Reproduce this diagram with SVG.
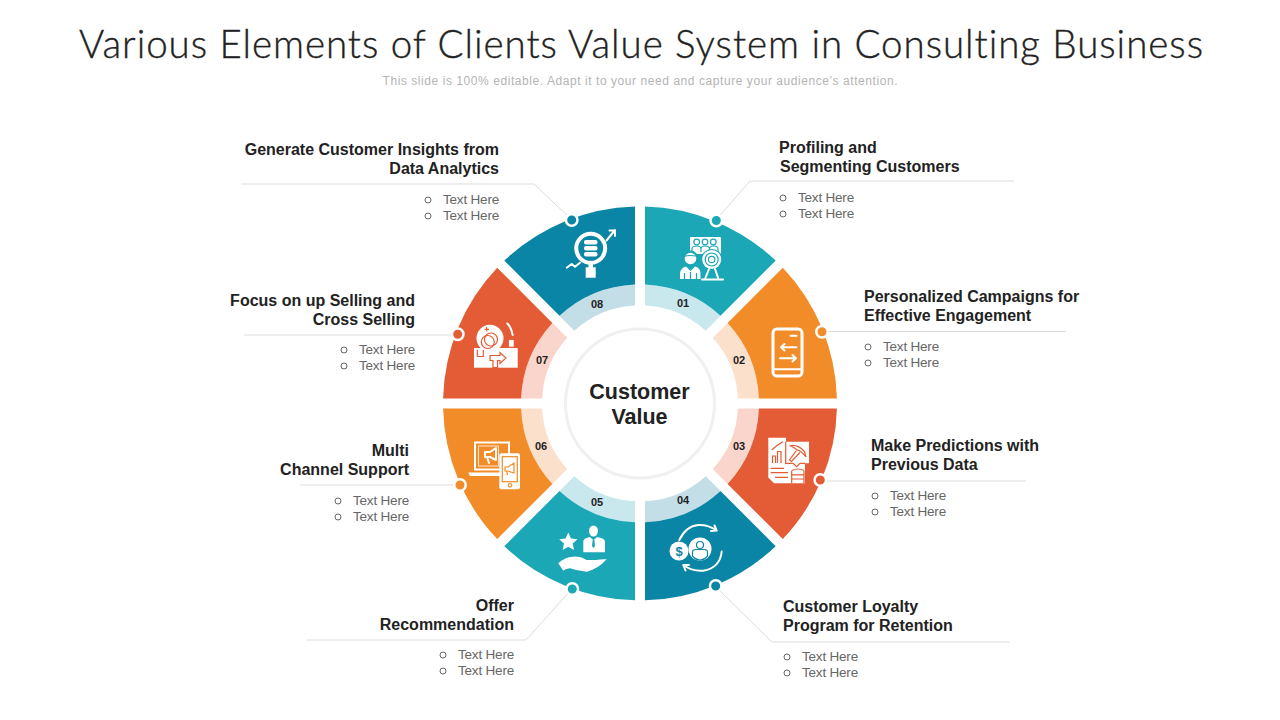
<svg xmlns="http://www.w3.org/2000/svg" width="1280" height="720" viewBox="0 0 1280 720">
<style>
text{font-family:"Liberation Sans",Arial,sans-serif}
.title{font-family:"Lato","Liberation Sans",sans-serif;font-size:38.5px;fill:#222;stroke:#222;stroke-width:.35;font-weight:300;font-variant-ligatures:none}
.sub{font-size:12px;fill:#b4b4b4}
.h{font-size:16px;font-weight:700;fill:#222}
.b{font-size:13.5px;letter-spacing:-.2px;fill:#666}
.bl{fill:none;stroke:#666;stroke-width:1}
.n{font-size:11px;font-weight:700;fill:#222;text-anchor:middle}
.c{font-size:21.5px;font-weight:700;fill:#222;text-anchor:middle}
.ln{fill:none;stroke:#dcdcdc;stroke-width:1}
.dot{stroke:#fff;stroke-width:2.5}
.seg{transform:translateY(.4px)}
.w{fill:#fff}
.s{fill:none;stroke:#fff;stroke-width:2;stroke-linecap:round;stroke-linejoin:round}
.e{text-anchor:end}
.t1{fill:none;stroke:#1ba7b5;stroke-width:1.2}
.o2{fill:none;stroke:#f28c28;stroke-width:1.2}
.r3{fill:none;stroke:#e35c35;stroke-width:1.2}
.b4{fill:none;stroke:#0b85a5;stroke-width:1.2}
</style>
<text class="title" x="641" y="58" text-anchor="middle" textLength="1124" lengthAdjust="spacing">Various Elements of Clients Value System in Consulting Business</text>
<text class="sub" x="640" y="85" text-anchor="middle" textLength="515" lengthAdjust="spacing">This slide is 100% editable. Adapt it to your need and capture your audience’s attention.</text>
<g id="connectors">
<path class="ln" d="M716 220L750 181H1014"/>
<path class="ln" d="M822 331.500H1066"/>
<path class="ln" d="M820 481H1026"/>
<path class="ln" d="M715 586L772 642H1010"/>
<path class="ln" d="M572 589L526 640H307"/>
<path class="ln" d="M460 485H300"/>
<path class="ln" d="M458 335H244"/>
<path class="ln" d="M572 220L534 184H241"/>
</g>
<circle id="center" cx="640" cy="403.500" r="74.500" fill="#fff" stroke="#f0f0f0" stroke-width="3"/>
<text class="c" x="639.500" y="399">Customer</text>
<text class="c" x="639.500" y="424">Value</text>
<g id="node01">
<path class="seg" fill="#c9e8ee" d="M645 305.100V284.100A119 119 0 0 1 720.500 315.400L705.700 330.300A98 98 0 0 0 645 305.100Z"/>
<path class="seg" fill="#1ba7b5" d="M645 206.100A197 197 0 0 1 775.700 260.200L720.500 315.400A119 119 0 0 0 645 284.100Z"/>
<circle class="dot" cx="716.300" cy="220.500" r="5.750" fill="#1ba7b5"/>
<text class="n" x="683" y="307">01</text>
<text class="h" x="779" y="153">Profiling and</text><text class="h" x="780" y="172">Segmenting Customers</text>
<circle class="bl" cx="783" cy="198" r="3"/><text class="b" x="798" y="202">Text Here</text>
<circle class="bl" cx="783" cy="214" r="3"/><text class="b" x="798" y="218">Text Here</text>
<g>
<rect class="w" x="690" y="237" width="31" height="17" rx="1"/>
<circle class="t1" cx="696.700" cy="242" r="2.800"/><circle class="t1" cx="705" cy="242" r="2.800"/><circle class="t1" cx="713.300" cy="242" r="2.800"/>
<path class="t1" d="M692 252V249Q692 246 696.700 246Q701 246 701 249V252M701 252V249Q701 246 705 246Q709.500 246 709.500 249V252M709.500 252V249Q709.500 246 713.300 246Q718 246 718 249V252"/>
<circle cx="711.700" cy="259.500" r="10.500" fill="#1ba7b5"/><circle class="w" cx="711.700" cy="259.500" r="9.500"/>
<circle class="t1" cx="711.700" cy="259.500" r="6.500"/><circle class="t1" cx="711.700" cy="259.500" r="3.200"/>
<path class="s" d="M709 269L705 279M715 269L718.500 279M702 279.500H723"/>
<circle cx="690.500" cy="258" r="7.500" fill="#1ba7b5"/><circle class="w" cx="690.500" cy="258.500" r="5.800"/>
<path class="t1" d="M685 256Q690 255 696 256"/>
<path class="w" d="M680 279V273Q681 267.500 686 266.500L690.500 271L695 266.500Q700 267.500 700.500 273V279Z"/>
<path class="t1" d="M684.500 279V273M696.500 279V273M690.500 272V279"/>
</g>
</g>
<g id="node02">
<path class="seg" fill="#fbe0cc" d="M737.900 398H758.900A119 119 0 0 0 727.600 322.500L712.700 337.300A98 98 0 0 1 737.900 398Z"/>
<path class="seg" fill="#f28c28" d="M836.900 398A197 197 0 0 0 782.800 267.300L727.600 322.500A119 119 0 0 1 758.900 398Z"/>
<circle class="dot" cx="822" cy="331.700" r="5.750" fill="#f28c28"/>
<text class="n" x="739" y="364">02</text>
<text class="h" x="864" y="302">Personalized Campaigns for</text><text class="h" x="864" y="321">Effective Engagement</text>
<circle class="bl" cx="868" cy="347" r="3"/><text class="b" x="883" y="351">Text Here</text>
<circle class="bl" cx="868" cy="363" r="3"/><text class="b" x="883" y="367">Text Here</text>
<g>
<rect x="773" y="329" width="29" height="47" rx="4" fill="none" stroke="#fff" stroke-width="3"/>
<path class="s" d="M773 369.300H802M790.500 335.800H796.500"/>
<path class="s" d="M781 347.300H796.500M784.500 344L781 347.300L784.500 350.500M780 358.300H796M792.500 355L796 358.300L792.500 361.500"/>
</g>
</g>
<g id="node03">
<path class="seg" fill="#f9d5cb" d="M737.900 408H758.900A119 119 0 0 1 727.600 483.500L712.800 468.700A98 98 0 0 0 737.900 408Z"/>
<path class="seg" fill="#e35c35" d="M836.900 408A197 197 0 0 1 782.800 538.700L727.600 483.500A119 119 0 0 0 758.900 408Z"/>
<circle class="dot" cx="820.300" cy="480" r="5.750" fill="#e35c35"/>
<text class="n" x="739" y="450">03</text>
<text class="h" x="871" y="451">Make Predictions with</text><text class="h" x="871" y="470">Previous Data</text>
<circle class="bl" cx="875" cy="496" r="3"/><text class="b" x="890" y="500">Text Here</text>
<circle class="bl" cx="875" cy="512" r="3"/><text class="b" x="890" y="516">Text Here</text>
<g>
<path class="w" d="M768.300 437.700H786V441.700H809V463.300H805V483.300H774L768.300 477.500Z"/>
<path class="r3" d="M785.700 441.700V463.300H793L796.700 466.700L800 463.300H805"/>
<path class="r3" d="M771.700 450L777 445.500L783 441.700M772.500 463V456H775.500V463M777.500 463V451.500H781V463"/>
<path class="r3" d="M770.700 468.300H784M770.700 472.700H788M775 477.300H788"/>
<path class="r3" d="M791.700 471V483.300M804 471V483.300M791.700 470.500Q798 467.500 804 470.500M791.700 474.800H804M791.700 479H804"/>
<path class="r3" stroke-width="1.600" d="M789.500 446Q797 443.500 804.500 451.500L806 457Q801.500 451 797.500 450L790.500 445.500M796.500 450.500L789.500 460L791.500 461.500L800 452.500"/>
</g>
</g>
<g id="node04">
<path class="seg" fill="#c3dee7" d="M645 500.900V521.900A119 119 0 0 0 720.500 490.600L705.700 475.800A98 98 0 0 1 645 500.900Z"/>
<path class="seg" fill="#0b85a5" d="M645 599.900A197 197 0 0 0 775.700 545.800L720.500 490.600A119 119 0 0 1 645 521.900Z"/>
<circle class="dot" cx="715.700" cy="586" r="5.750" fill="#0b85a5"/>
<text class="n" x="683" y="504">04</text>
<text class="h" x="783" y="612">Customer Loyalty</text><text class="h" x="783" y="631">Program for Retention</text>
<circle class="bl" cx="787" cy="657" r="3"/><text class="b" x="802" y="661">Text Here</text>
<circle class="bl" cx="787" cy="673" r="3"/><text class="b" x="802" y="677">Text Here</text>
<g>
<circle class="w" cx="679" cy="551" r="9.500"/>
<text x="679" y="555.500" text-anchor="middle" style="font-size:13px;font-weight:700;fill:#0b85a5">$</text>
<circle class="w" cx="700" cy="549" r="11.500"/>
<circle class="b4" cx="700" cy="545" r="3.500"/>
<path class="b4" d="M692.500 552Q692.500 549.500 696 549.500H704Q707.500 549.500 707.500 552V556Q704 560 700 560Q696 560 692.500 556Z"/>
<path class="s" stroke-width="1.600" d="M679.300 540Q686 526 698.300 525Q708 524.500 716.700 530.500M711 531L716.700 530.500L714.500 525.500"/>
<path class="s" stroke-width="1.600" d="M721.700 551.500Q720 568 703.300 570.700Q692 571.500 683.300 565M689 565L683.300 565L685.500 570.500"/>
</g>
</g>
<g id="node05">
<path class="seg" fill="#c9e8ee" d="M635 500.900V521.900A119 119 0 0 1 559.500 490.600L574.300 475.800A98 98 0 0 0 635 500.900Z"/>
<path class="seg" fill="#1ba7b5" d="M635 599.900A197 197 0 0 1 504.300 545.800L559.500 490.600A119 119 0 0 0 635 521.900Z"/>
<circle class="dot" cx="572.300" cy="589" r="5.750" fill="#1ba7b5"/>
<text class="n" x="597" y="506">05</text>
<text class="h e" x="514" y="611">Offer</text><text class="h e" x="514" y="630">Recommendation</text>
<text class="b e" x="514" y="659">Text Here</text><circle class="bl" cx="443" cy="655" r="3"/>
<text class="b e" x="514" y="675">Text Here</text><circle class="bl" cx="443" cy="671" r="3"/>
<g>
<path class="w" d="M568.300 532.500L571 538.500L577.500 539.200L572.700 543.500L574 550L568.300 546.700L562.600 550L564 543.500L559.200 539.200L565.600 538.500Z"/>
<ellipse class="w" cx="593.500" cy="531" rx="4.500" ry="5.500"/>
<path class="w" d="M583.300 552.300V541Q584 538 590 537L592 539H595L597 537Q604 538 605 541V552.300Z"/>
<path fill="#1ba7b5" d="M592.800 539H594.300L595 546L593.500 548L592 546Z"/>
<path class="w" d="M558.300 563.300Q565 557 573 556.700Q580 556 586.700 560H596Q602 559 606.700 559.300Q598 569 586.700 571.700Q577 571 570 568.300Q566 568.500 563.300 570.700Z"/>
</g>
</g>
<g id="node06">
<path class="seg" fill="#fbe0cc" d="M542.100 408H521.100A119 119 0 0 0 552.400 483.500L567.200 468.700A98 98 0 0 1 542.100 408Z"/>
<path class="seg" fill="#f28c28" d="M443.100 408A197 197 0 0 0 497.200 538.700L552.400 483.500A119 119 0 0 1 521.100 408Z"/>
<circle class="dot" cx="460" cy="485" r="5.750" fill="#f28c28"/>
<text class="n" x="541" y="450">06</text>
<text class="h e" x="409" y="456">Multi</text><text class="h e" x="409" y="475">Channel Support</text>
<text class="b e" x="409" y="505">Text Here</text><circle class="bl" cx="338" cy="501" r="3"/>
<text class="b e" x="409" y="521">Text Here</text><circle class="bl" cx="338" cy="517" r="3"/>
<g>
<rect x="475" y="442.500" width="34" height="27" fill="none" stroke="#fff" stroke-width="2"/>
<rect x="478.500" y="446" width="20" height="20" fill="none" stroke="#fff" stroke-width="1" opacity=".8"/>
<path class="s" stroke-width="1" d="M485 452H490L496 448V460L490 457H485ZM487 457L489 463"/>
<path class="w" d="M468.300 472.500H501V476H470Z"/>
<rect class="w" x="499.300" y="453.300" width="20.700" height="36" rx="2"/>
<rect class="o2" x="502.300" y="456.700" width="15" height="25"/>
<circle class="o2" cx="510" cy="485.300" r="1.800"/>
<path class="o2" d="M505 467H508L514 463V473L508 471H505ZM506.500 471L507.500 475"/>
</g>
</g>
<g id="node07">
<path class="seg" fill="#f9d5cb" d="M542.100 398H521.100A119 119 0 0 1 552.400 322.500L567.200 337.300A98 98 0 0 0 542.100 398Z"/>
<path class="seg" fill="#e35c35" d="M443.100 398A197 197 0 0 1 497.200 267.300L552.400 322.500A119 119 0 0 0 521.100 398Z"/>
<circle class="dot" cx="457.700" cy="334.300" r="5.750" fill="#e35c35"/>
<text class="n" x="542" y="364">07</text>
<text class="h e" x="415" y="306">Focus on up Selling and</text><text class="h e" x="415" y="325">Cross Selling</text>
<text class="b e" x="415" y="354">Text Here</text><circle class="bl" cx="344" cy="350" r="3"/>
<text class="b e" x="415" y="370">Text Here</text><circle class="bl" cx="344" cy="366" r="3"/>
<g>
<rect class="w" x="474" y="348" width="43.700" height="19.700"/>
<circle class="w" cx="490" cy="338.300" r="13.500"/>
<circle class="r3" cx="487.800" cy="342" r="6.500"/><circle class="r3" cx="491" cy="339.500" r="6.500"/>
<path class="r3" d="M484.500 329.300H489M486.700 327V331.600"/>
<path class="r3" d="M477.300 350V356.500H483.300V350"/>
<rect class="w" x="508.300" y="339.300" width="6" height="8" stroke="#e35c35" stroke-width="1.200"/>
<path class="s" stroke-width="1.200" d="M507.300 323.500Q511 327 512.700 335"/>
<path fill="#fff" stroke="#e35c35" stroke-width="1.200" d="M490 355.500H500V352.500L506 358L500 363.500V360.500H497.500V367.700H493V360.500H490Z"/>
</g>
</g>
<g id="node08">
<path class="seg" fill="#c3dee7" d="M635 305.100V284.100A119 119 0 0 0 559.500 315.400L574.300 330.300A98 98 0 0 1 635 305.100Z"/>
<path class="seg" fill="#0b85a5" d="M635 206.100A197 197 0 0 0 504.300 260.200L559.500 315.400A119 119 0 0 1 635 284.100Z"/>
<circle class="dot" cx="571.700" cy="220" r="5.750" fill="#0b85a5"/>
<text class="n" x="597" y="308">08</text>
<text class="h e" x="499" y="155">Generate Customer Insights from</text><text class="h e" x="499" y="174">Data Analytics</text>
<text class="b e" x="499" y="204">Text Here</text><circle class="bl" cx="428" cy="200" r="3"/>
<text class="b e" x="499" y="220">Text Here</text><circle class="bl" cx="428" cy="216" r="3"/>
<g>
<circle cx="590.700" cy="248.300" r="14.500" fill="none" stroke="#fff" stroke-width="4"/>
<rect class="w" x="584" y="240" width="13.500" height="4.500" rx="2"/>
<rect class="w" x="584" y="246" width="13.500" height="4.500" rx="2"/>
<rect class="w" x="584" y="252" width="13.500" height="4.500" rx="2"/>
<path class="w" d="M588.500 264H593V267.300H595.700V277.700H585.700V267.300H588.500Z"/>
<path class="s" stroke-width="1.500" d="M606.500 240.500L615 230M609.500 230.500H615V236"/>
<path class="s" stroke-width="1.500" d="M566.700 267.700L571.700 264L575 266.700L580 262.700"/>
</g>
</g>
</svg>
